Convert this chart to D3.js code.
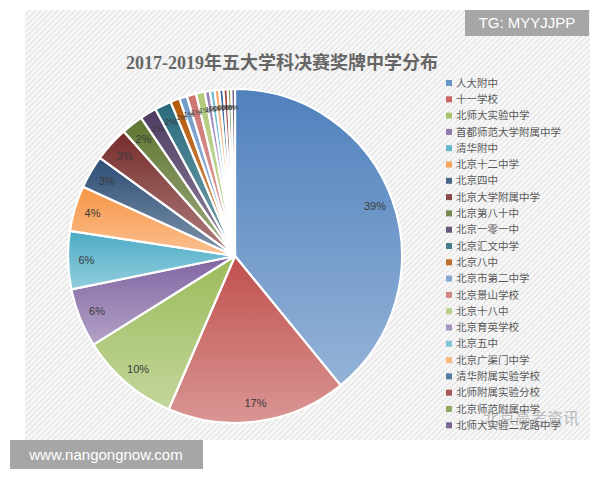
<!DOCTYPE html>
<html><head><meta charset="utf-8">
<script src="https://cdn.jsdelivr.net/npm/d3@7"></script>
<style>body{margin:0;background:#fff}svg{display:block}</style>
</head><body>
<svg id="c" width="600" height="480"></svg>
<script>
const categories = ["人大附中","十一学校","北师大实验中学","首都师范大学附属中学","清华附中","北京十二中学","北京四中","北京大学附属中学","北京第八十中","北京一零一中","北京汇文中学","北京八中","北京市第二中学","北京景山学校","北京十八中","北京育英学校","北京五中","北京广渠门中学","清华附属实验学校","北师附属实验分校","北京师范附属中学","北师大实验二龙路中学"];
const values = [39.1,17.4,9.6,5.7,5.6,4.4,3.2,3.4,2.1,1.6,1.6,0.9,0.75,0.9,0.85,0.5,0.45,0.45,0.4,0.4,0.35,0.35];
const colors = ["#4F81BD","#C0504D","#9BBB59","#8064A2","#4BACC6","#F79646","#2C4D75","#772C2A","#5F7530","#4D3B62","#276A7C","#B65708","#729ACA","#CD7371","#AFC97A","#9983B5","#6FBDD1","#F9AB6B","#3A6595","#9C3D3A","#7E9A45","#664F83"];
const title = "2017-2019年五大学科决赛奖牌中学分布";

const svg = d3.select("#c");
const defs = svg.append("defs");
const pat = defs.append("pattern").attr("id","hatch").attr("patternUnits","userSpaceOnUse")
  .attr("width",4).attr("height",4).attr("patternTransform","rotate(45)");
pat.append("rect").attr("width",4).attr("height",4).attr("fill","#f7f7f7");
pat.append("line").attr("x1",0).attr("y1",0).attr("x2",0).attr("y2",4).attr("stroke","#d6d6d6").attr("stroke-width",1.3);

svg.append("rect").attr("x",25).attr("y",10).attr("width",565).attr("height",430).attr("fill","url(#hatch)");

svg.append("text").attr("x",282).attr("y",69).attr("text-anchor","middle")
  .attr("font-family","'Liberation Serif','Noto Sans CJK SC',serif").attr("font-weight","bold")
  .attr("font-size",18).attr("fill","#666666").text(title);

const cx = 235, cy = 256, r = 167;
const color = d3.scaleOrdinal().domain(categories).range(colors);
colors.forEach((c,i)=>{
  const g = defs.append("linearGradient").attr("id","g"+i).attr("x1",0).attr("y1",0).attr("x2",0).attr("y2",1);
  g.append("stop").attr("offset","0%").attr("stop-color",c);
  g.append("stop").attr("offset","100%").attr("stop-color",d3.interpolateRgb(c,"#ffffff")(0.4));
});
const total = d3.sum(values);
const pie = d3.pie().sort(null).value(d=>d.v);
const data = pie(categories.map((c,i)=>({c, v: values[i], i})));
const arc = d3.arc().innerRadius(0).outerRadius(r);
const labelArc = d3.arc().innerRadius(r*0.89).outerRadius(r*0.89);
const g = svg.append("g").attr("transform",`translate(${cx},${cy})`);
g.selectAll("path").data(data).join("path")
  .attr("d",arc).attr("fill",d=>`url(#g${d.data.i})`)
  .attr("stroke","#ffffff").attr("stroke-width",2.2).attr("stroke-linejoin","round");
g.selectAll("text").data(data).join("text")
  .attr("transform",d=>`translate(${labelArc.centroid(d)})`)
  .attr("text-anchor","middle").attr("dy","0.35em")
  .attr("font-family","'Liberation Sans',Arial,sans-serif").attr("font-size",d=>d.data.v<1?7.5:(d.data.v<2?9:11))
  .attr("fill","#3a3a3a")
  .text(d=>Math.round(d.data.v/total*100)+"%");

const lg = svg.append("g");
const y0 = 83, step = 16.3;
categories.forEach((c,i)=>{
  lg.append("rect").attr("x",446).attr("y",y0+i*step-3).attr("width",6).attr("height",6).attr("fill",color(c)).attr("opacity",0.85);
  lg.append("text").attr("x",456).attr("y",y0+i*step).attr("dy","0.35em")
    .attr("font-family","'Noto Sans CJK SC',sans-serif").attr("font-size",10.5).attr("fill","#595959").text(c);
});

svg.append("text").attr("x",483).attr("y",424).attr("font-family","'Noto Sans CJK SC',sans-serif")
  .attr("font-size",16).attr("fill","#777").attr("opacity",0.45).text("北京高考资讯");

svg.append("rect").attr("x",465).attr("y",10).attr("width",124).attr("height",26).attr("fill","#a6a6a6");
svg.append("text").attr("x",527).attr("y",28).attr("text-anchor","middle").attr("font-family","'Liberation Sans',Arial,sans-serif")
  .attr("font-size",15).attr("fill","#ffffff").text("TG: MYYJJPP");
svg.append("rect").attr("x",10).attr("y",440).attr("width",193).attr("height",29).attr("fill","#a6a6a6");
svg.append("text").attr("x",106).attr("y",460).attr("text-anchor","middle").attr("font-family","'Liberation Sans',Arial,sans-serif")
  .attr("font-size",15).attr("fill","#ffffff").text("www.nangongnow.com");
</script>
</body></html>
